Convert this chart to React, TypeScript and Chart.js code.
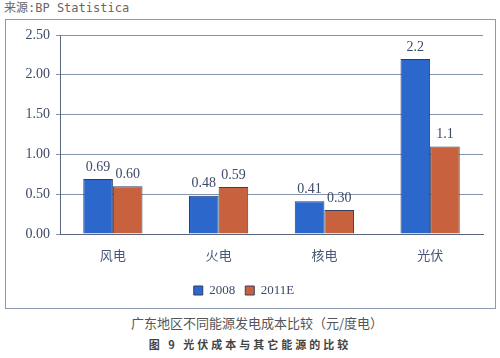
import React, { useEffect, useRef } from "react";
import { Chart, registerables } from "chart.js";

Chart.register(...registerables);

const categories = ["风电", "火电", "核电", "光伏"];
const series2008 = [0.69, 0.48, 0.41, 2.2];
const series2011 = [0.6, 0.59, 0.3, 1.1];
const labels2008 = ["0.69", "0.48", "0.41", "2.2"];
const labels2011 = ["0.60", "0.59", "0.30", "1.1"];
const seriesNames = ["2008", "2011E"];
const sourceText = "来源:BP Statistica";
const captionText = "广东地区不同能源发电成本比较（元/度电）";
const figureText = "图 9   光伏成本与其它能源的比较";

const TEXT = "#3d4a68";
const SERIF = "'Liberation Serif', 'DejaVu Serif', serif";
const CJK = "'Noto Sans CJK SC', 'Noto Sans', sans-serif";

const valueLabelPlugin = {
  id: "valueLabels",
  afterDatasetsDraw(chart: any) {
    const ctx = chart.ctx;
    const lbls = [labels2008, labels2011];
    ctx.save();
    ctx.font = `14px ${SERIF}`;
    ctx.fillStyle = TEXT;
    ctx.textAlign = "center";
    ctx.textBaseline = "bottom";
    chart.data.datasets.forEach((_: any, di: number) => {
      const meta = chart.getDatasetMeta(di);
      meta.data.forEach((bar: any, i: number) => {
        ctx.fillText(lbls[di][i], bar.x, bar.y - 5);
      });
    });
    ctx.restore();
  },
};

export default function App() {
  const ref = useRef<HTMLCanvasElement | null>(null);
  useEffect(() => {
    if (!ref.current) return;
    const chart = new Chart(ref.current, {
      type: "bar",
      data: {
        labels: categories,
        datasets: [
          {
            label: seriesNames[0],
            data: series2008,
            backgroundColor: "#2c68cc",
            borderColor: "#2a3d6a",
            borderWidth: 1,
          },
          {
            label: seriesNames[1],
            data: series2011,
            backgroundColor: "#c8623e",
            borderColor: "#3a3f5e",
            borderWidth: 1,
          },
        ],
      },
      options: {
        animation: false,
        responsive: false,
        maintainAspectRatio: false,
        layout: { padding: { top: 16, right: 13, left: 0, bottom: 2 } },
        datasets: {
          bar: { categoryPercentage: 0.56, barPercentage: 1.0 },
        },
        scales: {
          x: {
            grid: { display: false, drawTicks: false },
            border: { display: true, color: "#5a6580", width: 1 },
            ticks: {
              color: "#4a5878",
              font: { family: CJK, size: 13 },
              padding: 13,
            },
            afterFit(scale: any) {
              scale.height = 40;
            },
          },
          y: {
            min: 0,
            max: 2.5,
            grid: { color: "#8594ad", tickLength: 4, lineWidth: 1 },
            border: { display: true, color: "#5a6580", width: 1 },
            ticks: {
              stepSize: 0.5,
              color: TEXT,
              font: { family: SERIF, size: 14 },
              padding: 6,
              callback: (v: any) => Number(v).toFixed(2),
            },
            afterFit(scale: any) {
              scale.width = 55;
            },
          },
        },
        plugins: {
          legend: {
            position: "bottom",
            labels: {
              boxWidth: 9,
              boxHeight: 9,
              padding: 10,
              color: TEXT,
              font: { family: SERIF, size: 13 },
            },
          },
          tooltip: { enabled: false },
        },
      },
      plugins: [valueLabelPlugin],
    });
    return () => chart.destroy();
  }, []);

  return (
    <div style={{ position: "absolute", left: 0, top: 0, width: 500, height: 358, background: "#fff" }}>
      <div
        style={{
          position: "absolute",
          left: 4,
          top: 0,
          fontSize: 12,
          color: "#666",
          fontFamily: "'DejaVu Sans Mono', 'Noto Sans CJK SC', monospace",
          lineHeight: "16px",
        }}
      >
        {sourceText}
      </div>
      <div
        style={{
          position: "absolute",
          left: 5,
          top: 19,
          width: 489,
          height: 288,
          border: "1px solid #8c99ae",
        }}
      />
      <canvas
        ref={ref}
        width={491}
        height={290}
        style={{ position: "absolute", left: 5, top: 19, width: 491, height: 290 }}
      />
      <div
        style={{
          position: "absolute",
          left: 0,
          width: 500,
          top: 314,
          textAlign: "center",
          fontSize: 13,
          color: "#555",
          fontFamily: CJK,
          lineHeight: "18px",
          paddingLeft: 14,
          boxSizing: "border-box",
        }}
      >
        {captionText}
      </div>
      <div
        style={{
          position: "absolute",
          left: 0,
          width: 500,
          top: 336,
          textAlign: "center",
          fontSize: 11,
          fontWeight: "bold",
          letterSpacing: 3,
          color: "#444",
          fontFamily: CJK,
          lineHeight: "16px",
        }}
      >
        {figureText}
      </div>
    </div>
  );
}
